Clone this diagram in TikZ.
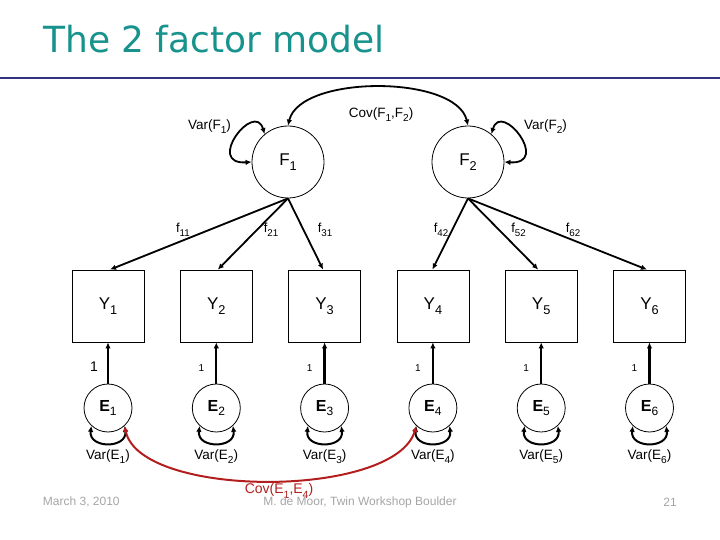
\documentclass[tikz,border=0pt]{standalone}
\usepackage{fontspec}
\setmainfont{Liberation Sans}
\newfontfamily\titlefont{DejaVu Sans}
\usetikzlibrary{arrows.meta}
\definecolor{titleteal}{RGB}{24,146,140}
\definecolor{rulecol}{RGB}{50,52,128}
\definecolor{covred}{RGB}{178,30,30}
\definecolor{footgray}{RGB}{165,165,165}
\newcommand{\fsz}[1]{\fontsize{#1}{#1}\selectfont}
\makeatletter
\newcommand{\sbs}[1]{\raisebox{-0.3em}{\fontsize{\fpeval{0.75*\f@size}}{0}\selectfont\mdseries #1}}
\makeatother
\begin{document}
\begin{tikzpicture}[x=1pt,y=-1pt,
  latent/.style={circle, draw, line width=0.8pt, minimum size=72pt, inner sep=0pt, font=\fsz{17}},
  errnode/.style={circle, draw, line width=0.8pt, minimum size=48pt, inner sep=0pt, font=\fsz{16}},
  obs/.style={rectangle, draw, line width=0.8pt, minimum width=72pt, minimum height=72pt, inner sep=0pt, font=\fsz{17}},
  tip/.tip={Latex[length=6pt,width=5.5pt]},
  arr/.style={line width=1.8pt, -tip},
  uparr/.style={line width=2.3pt, -tip},
  dbl/.style={line width=1.8pt, tip-tip},
  lab/.style={inner sep=0pt, font=\fsz{13.5}},
  flab/.style={inner sep=0pt, font=\fsz{13}},
  onelab/.style={inner sep=0pt, font=\fsz{10}},
  foot/.style={inner sep=0pt, text=footgray, font=\fsz{12}}]
\useasboundingbox (0,0) rectangle (720,540);

% title and rule
\node[anchor=base west, inner sep=0pt, text=titleteal, font=\titlefont\fsz{36}] (title) at (43,53) {The 2 factor model};
\draw[rulecol, line width=2.8pt] (0,78) -- (720,78);

% latent factors
\node[latent] (F1) at (288,162) {F\sbs{1}};
\node[latent] (F2) at (468,162) {F\sbs{2}};

% observed variables
\foreach \i/\x in {1/108,2/216.3,3/324.6,4/432.9,5/541.2,6/649.5}{
  \node[obs] (Y\i) at (\x,306) {Y\sbs{\i}};
  \node[errnode] (E\i) at (\x,408) {\textbf{E}\sbs{\i}};
  \draw[uparr] (E\i.north) -- (Y\i.south);
  \draw[dbl, line width=2pt] (E\i.-133) .. controls +(-3,23) and +(3,23) .. (E\i.-47);
  \node[lab] (VE\i) at (\x,457) {Var(E\sbs{\i})};
}
\node[inner sep=0pt, font=\fsz{14}] (one1) at (94,367) {1};
\foreach \i/\x in {2/216.3,3/324.6,4/432.9,5/541.2,6/649.5}{
  \node[onelab] (one\i) at (\x-15,368) {1};
}

% factor loadings
\draw[arr] (F1.south) -- ([xshift=2pt]Y1.north);
\draw[arr] (F1.south) -- ([xshift=1.5pt]Y2.north);
\draw[arr] (F1.south) -- ([xshift=-1.5pt]Y3.north);
\draw[arr] (F2.south) -- ([xshift=-0.5pt]Y4.north);
\draw[arr] (F2.south) -- ([xshift=-3pt]Y5.north);
\draw[arr] (F2.south) -- ([xshift=-2.5pt]Y6.north);
\node[flab] (f11) at (183,230) {f\sbs{11}};
\node[flab] (f21) at (271,230) {f\sbs{21}};
\node[flab] (f31) at (325,230) {f\sbs{31}};
\node[flab] (f42) at (441,230) {f\sbs{42}};
\node[flab] (f52) at (518.5,230) {f\sbs{52}};
\node[flab] (f62) at (573,230) {f\sbs{62}};

% factor variances and covariance
\draw[dbl] (F1.130) .. controls +(-10,-34) and +(-47,3) .. (F1.180);
\draw[dbl] (F2.50) .. controls +(10,-34) and +(47,3) .. (F2.0);
\draw[dbl] (F1.90) .. controls +(12,-51) and +(-12,-51) .. (F2.90);
\node[lab] (VF1) at (209.5,127) {Var(F\sbs{1})};
\node[lab] (VF2) at (545.5,127) {Var(F\sbs{2})};
\node[lab] (CF) at (381,115) {Cov(F\sbs{1},F\sbs{2})};

% residual covariance
\draw[dbl, covred, line width=2pt] (E1.-47) .. controls +(15,73) and +(-21,73) .. (E4.-133);
\node[inner sep=0pt, text=covred, font=\fsz{14}] (CE) at (279,491) {Cov(E\sbs{1},E\sbs{4})};

% footer
\node[foot] (date) at (81.3,502) {March 3, 2010};
\node[foot] (author) at (360,502) {M. de Moor, Twin Workshop Boulder};
\node[foot] (page) at (670,502) {21};
\end{tikzpicture}
\end{document}
